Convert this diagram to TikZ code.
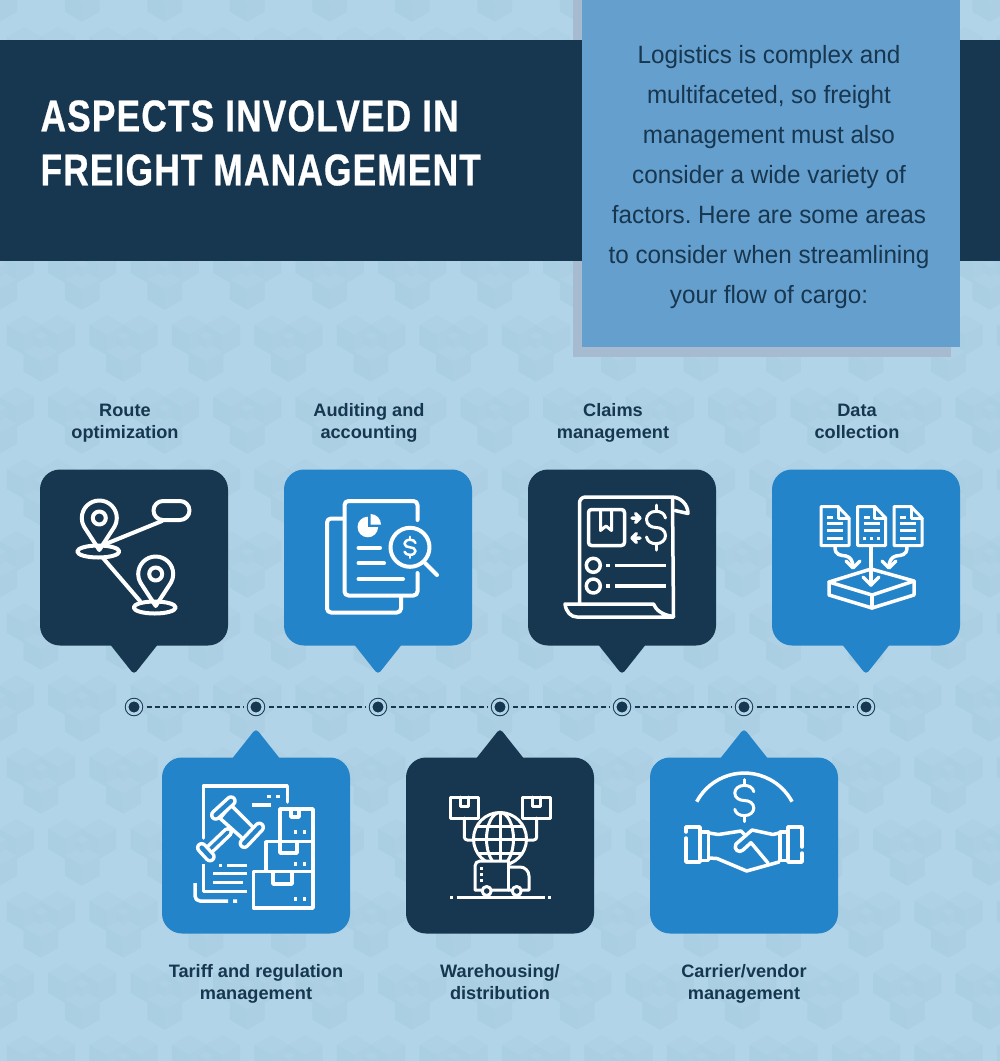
\documentclass[tikz,border=0pt]{standalone}
\usepackage{fontspec}
\setmainfont{Liberation Sans}
\newfontfamily\headfont[FakeStretch=0.795,LetterSpace=2.5,FakeBold=0.6]{Liberation Sans}
\newfontfamily\bodyfont[FakeStretch=0.97]{Liberation Sans}
\newfontfamily\labelfont[FakeStretch=1.01]{Liberation Sans}
\usetikzlibrary{positioning}
\definecolor{navy}{HTML}{17364F}
\definecolor{cardblue}{HTML}{2484C9}
\definecolor{panelblue}{HTML}{659FCD}
\definecolor{panelshade}{HTML}{A6BBD0}
\definecolor{paper}{HTML}{B2D4E8}
\definecolor{facetop}{HTML}{AED1E5}
\definecolor{faceleft}{HTML}{AACEE2}
\definecolor{faceright}{HTML}{ACCFE4}
\tikzstyle{darkcard} = [rectangle, rounded corners=20pt,
minimum width=188pt,
minimum height=176pt,
inner sep=0pt, outer sep=0pt,
fill=navy]
\tikzstyle{bluecard} = [rectangle, rounded corners=20pt,
minimum width=188pt,
minimum height=176pt,
inner sep=0pt, outer sep=0pt,
fill=cardblue]
\tikzstyle{cardlabel} = [align=center, text=navy,
font=\labelfont\bfseries\fontsize{18}{22}\selectfont]
\tikzstyle{stopmark} = [circle, draw=navy, fill=navy, line width=1pt,
double=paper, double distance=2.7pt,
minimum size=13.7pt, inner sep=0pt, outer sep=0pt]
\tikzstyle{stoplink} = [navy, line width=1.1pt, dash pattern=on 5pt off 3pt,
shorten <=6pt, shorten >=5pt]
\tikzstyle{iconline} = [draw=white, line width=3.5pt, line join=round, line cap=round]
\tikzstyle{thinline} = [draw=white, line width=3pt, line join=round, line cap=round]
% one shaded cube of the backdrop
\newcommand{\cubetile}[3]{
\begin{scope}[shift={(#1,#2)},scale=#3]
\fill[facetop] (0,-1) -- (.866,-.5) -- (0,0) -- (-.866,-.5) -- cycle;
\fill[faceleft] (-.866,-.5) -- (0,0) -- (0,1) -- (-.866,.5) -- cycle;
\fill[faceright] (.866,-.5) -- (0,0) -- (0,1) -- (.866,.5) -- cycle;
\end{scope}}
% map pin with its base ring
\newcommand{\pinmark}[2]{
\begin{scope}[shift={(#1,#2)}]
\draw[iconline, line width=4pt] (0,32) -- (-15,9) .. controls (-17,5) and (-17.5,3) .. (-17.5,0) arc (180:360:17.5) .. controls (17.5,3) and (17,5) .. (15,9) -- cycle;
\draw[iconline, line width=4pt] (0,0) circle (6.5);
\draw[iconline, line width=4pt] (-1,33.5) ellipse (21 and 6);
\end{scope}}
% dollar sign: half width, half height, line width
\newcommand{\dollarmark}[5]{
\begin{scope}[shift={(#1,#2)},xscale=#3,yscale=#4]
\draw[draw=white, line width=#5pt, line cap=round, line join=round] (1,-.42) .. controls (.9,-.62) and (.5,-.72) .. (0,-.72) .. controls (-.6,-.72) and (-1,-.55) .. (-1,-.36) .. controls (-1,-.12) and (-.5,0) .. (0,0) .. controls (.5,0) and (1,.12) .. (1,.36) .. controls (1,.55) and (.6,.72) .. (0,.72) .. controls (-.5,.72) and (-.9,.62) .. (-1,.42);
\draw[draw=white, line width=#5pt, line cap=round] (0,-1) -- (0,-.72) (0,.72) -- (0,1);
\end{scope}}
% small page with text rows
\newcommand{\pagemark}[1]{
\begin{scope}[shift={(#1,0)}]
\draw[thinline] (821,506.5) -- (838,506.5) -- (849,518) -- (849,545.5) -- (821,545.5) -- cycle;
\draw[thinline] (838,506.5) -- (838,518) -- (849,518);
\draw[thinline, line cap=butt] (827,517) -- (833,517);
\draw[thinline, line cap=butt] (827,523.5) -- (843,523.5) (827,530.7) -- (843,530.7);
\end{scope}}
\begin{document}
\begin{tikzpicture}[x=1pt, y=-1pt, node distance=244pt]
\useasboundingbox (0,0) rectangle (1000,1061);

% Backdrop
\fill[paper] (0,0) rectangle (1000,1061);
\begin{scope}
\clip (0,0) rectangle (1000,1061);
\foreach \row in {0,...,15}{
\foreach \col in {-1,...,12}{
\pgfmathsetmacro{\tilex}{41+82.5*\col+41.25*(1-mod(\row,2))}
\pgfmathsetmacro{\tiley}{-20+72*\row}
\cubetile{\tilex-16.7}{\tiley-5}{20}
\cubetile{\tilex+16.7}{\tiley-5}{20}
\cubetile{\tilex}{\tiley+21.7}{20}
\cubetile{\tilex}{\tiley}{8.3}
}}
\end{scope}

% Header
\fill[panelshade] (573,0) rectangle (951,357);
\node (banner) [rectangle, fill=navy, minimum width=1000pt, minimum height=221pt, inner sep=0pt, outer sep=0pt] at (500,150.5) {};
\node (panel) [rectangle, fill=panelblue, minimum width=378pt, minimum height=347pt, inner sep=0pt, outer sep=0pt] at (771,173.5) {};
\node (title) [anchor=west, align=left, text=white, font=\headfont\bfseries\fontsize{44.5}{54}\selectfont] at (37,143) {ASPECTS INVOLVED IN\\FREIGHT MANAGEMENT};
\node (intro) [align=center, text=navy, font=\bodyfont\fontsize{25}{40}\selectfont] at (769,177) {Logistics is complex and\\multifaceted, so freight\\management must also\\consider a wide variety of\\factors.\ Here are some areas\\to consider when streamlining\\your flow of cargo:};

% Cards
\node (route) [darkcard] at (134,557.5) {};
\node (audit) [bluecard, right of=route] {};
\node (claims) [darkcard, right of=audit] {};
\node (data) [bluecard, right of=claims] {};
\node (tariff) [bluecard] at (256,845.5) {};
\node (storage) [darkcard, right of=tariff] {};
\node (carrier) [bluecard, right of=storage] {};

% Pointers
\foreach \card/\tone in {route/navy, audit/cardblue, claims/navy, data/cardblue}{
\fill[\tone, rounded corners=4pt] ([xshift=-25.4pt,yshift=3pt]\card.south) -- ([xshift=25.4pt,yshift=3pt]\card.south) -- ([yshift=-29pt]\card.south) -- cycle;
}
\foreach \card/\tone in {tariff/cardblue, storage/navy, carrier/cardblue}{
\fill[\tone, rounded corners=4pt] ([xshift=-25.4pt,yshift=-3pt]\card.north) -- ([xshift=25.4pt,yshift=-3pt]\card.north) -- ([yshift=29pt]\card.north) -- cycle;
}

% Labels
\node (routetext) [cardlabel, above of=route, node distance=134.2pt, xshift=-9pt] {\strut Route\\optimization\strut};
\node (audittext) [cardlabel, above of=audit, node distance=134.2pt, xshift=-9pt] {\strut Auditing and\\accounting\strut};
\node (claimstext) [cardlabel, above of=claims, node distance=134.2pt, xshift=-9pt] {\strut Claims\\management\strut};
\node (datatext) [cardlabel, above of=data, node distance=134.2pt, xshift=-9pt] {\strut Data\\collection\strut};
\node (tarifftext) [cardlabel, below of=tariff, node distance=139pt] {\strut Tariff and regulation\\management\strut};
\node (storagetext) [cardlabel, below of=storage, node distance=139pt] {\strut Warehousing/\\distribution\strut};
\node (carriertext) [cardlabel, below of=carrier, node distance=139pt] {\strut Carrier/vendor\\management\strut};

% Timeline
\node (stopa) [stopmark] at (134,707) {};
\node (stopb) [stopmark, right=108.3pt of stopa] {};
\node (stopc) [stopmark, right=108.3pt of stopb] {};
\node (stopd) [stopmark, right=108.3pt of stopc] {};
\node (stope) [stopmark, right=108.3pt of stopd] {};
\node (stopf) [stopmark, right=108.3pt of stope] {};
\node (stopg) [stopmark, right=108.3pt of stopf] {};
\draw [stoplink] (stopa) -- (stopb);
\draw [stoplink] (stopb) -- (stopc);
\draw [stoplink] (stopc) -- (stopd);
\draw [stoplink] (stopd) -- (stope);
\draw [stoplink] (stope) -- (stopf);
\draw [stoplink] (stopf) -- (stopg);

% Route icon
\pinmark{99.3}{518}
\pinmark{155.7}{574}
\draw[iconline, line width=4pt] (163,501) -- (180,501) arc (270:450:9.5) -- (163,520) arc (90:270:9.5) -- cycle;
\draw[iconline, line width=4pt] (162,521) -- (108,543);
\draw[iconline, line width=4pt] (103,558) -- (140,601);

% Audit icon
\draw[iconline, line width=4pt] (343,518.5) -- (331,518.5) arc (270:180:4) -- (327,608.5) arc (180:90:4) -- (397,612.5) arc (90:0:4) -- (401,597);
\draw[iconline, line width=4pt] (417.5,520) -- (417.5,505) arc (0:-90:4) -- (348.5,501) arc (270:180:4) -- (344.5,591.5) arc (180:90:4) -- (413.5,595.5) arc (90:0:4) -- (417.5,573);
\fill[white] (367.8,527) -- (378.1,527) arc (0:270:10.3) -- cycle;
\fill[white] (370.5,524.5) -- (370.5,514) arc (270:360:10.5) -- cycle;
\draw[iconline, line width=4pt] (358.5,547.7) -- (380,547.7);
\draw[iconline, line width=4pt] (358.5,563.3) -- (384,563.3);
\draw[iconline, line width=4pt] (358.5,579) -- (403,579);
\draw[iconline, line width=4pt, fill=cardblue] (410,547.3) circle (19.5);
\dollarmark{410}{547.3}{5.5}{10.5}{2.5}
\draw[iconline, line width=4pt] (425,563) -- (437,575);

% Claims icon
\draw[iconline] (579.5,604) -- (579.5,503) arc (180:270:6) -- (671.5,497) arc (270:360:16.5) -- (675,510.5);
\draw[iconline] (672.5,497.5) -- (673.5,616.5) .. controls (662,615) and (656,610) .. (653.5,604) -- (565,604) .. controls (566,612) and (571,617) .. (577,617) -- (673.5,617);
\draw[iconline, rounded corners=3pt] (588.5,509.5) rectangle (624.5,545.5);
\draw[iconline, line width=3pt] (600.5,509.5) -- (600.5,530.5) -- (606,526) -- (611.5,530.5) -- (611.5,509.5);
\draw[iconline] (632,518) -- (640,518) (635.5,513.5) -- (640,518) -- (635.5,522.5);
\draw[iconline] (640,538) -- (632,538) (636.5,533.5) -- (632,538) -- (636.5,542.5);
\dollarmark{656}{527.5}{9.5}{22.5}{3}
\draw[iconline] (593.3,565.3) circle (7);
\draw[iconline] (593.3,586) circle (7);
\draw[iconline, line cap=butt] (606,565.3) -- (610,565.3) (615,565.3) -- (666,565.3);
\draw[iconline, line cap=butt] (606,586) -- (610,586) (615,586) -- (666,586);

% Data icon
\foreach \shiftx in {0,36.7,73}{
\pagemark{\shiftx}
}
\draw[thinline, line cap=butt] (827,538.3) -- (843,538.3) (900,538.3) -- (916,538.3);
\foreach \dotx in {864,871,878}{
\draw[thinline, line cap=butt] (\dotx-1.5,538.3) -- (\dotx+1.5,538.3);
}
\draw[iconline] (835,547) .. controls (835,556) and (841,555) .. (846,556) .. controls (851,557) and (853,562) .. (853,567);
\draw[iconline] (846,561) -- (853,568) -- (860,561);
\draw[iconline] (907,547) .. controls (907,556) and (901,555) .. (896,556) .. controls (891,557) and (889,562) .. (889,567);
\draw[iconline] (882,561) -- (889,568) -- (896,561);
\draw[iconline] (871,547) -- (871,585);
\draw[iconline] (863,577) -- (871,585) -- (879,577);
\draw[iconline] (829,582) -- (871,569) -- (914,581) -- (914,595) -- (872,608) -- (829,595) -- cycle;
\draw[iconline] (829,582) -- (872,595) -- (914,581);
\draw[iconline] (872,595) -- (872,608);

% Tariff icon
\draw[iconline] (203.3,838) -- (203.3,786) -- (287.3,786) -- (287.3,802);
\draw[iconline, line cap=butt] (252,805) -- (271,805) (267,796.7) -- (270.5,796.7) (276,796.7) -- (279.5,796.7);
\draw[iconline, fill=cardblue] (280,809) rectangle (313,841.7);
\draw[iconline, fill=cardblue] (266,841.7) rectangle (313,871.7);
\draw[iconline, fill=cardblue] (253.5,871.7) rectangle (313,908);
\draw[iconline] (291,809) -- (291,817) -- (299,817) -- (299,809);
\draw[iconline] (280,842) -- (280,853) -- (297,853) -- (297,842);
\draw[iconline] (273,872) -- (273,884) -- (292,884) -- (292,872);
\foreach \boxy in {832,864,899}{
\draw[iconline, line cap=butt] (294,\boxy) -- (297,\boxy) (303,\boxy) -- (306,\boxy);
}
\draw[draw=white, line width=10.5pt, line cap=round] (228,832) -- (206,853);
\draw[cardblue, line width=3.5pt, line cap=round] (228,832) -- (206,853);
\draw[iconline, fill=cardblue] (231,805) -- (255.7,830) -- (244.3,840) -- (220,818.3) -- cycle;
\foreach \ax/\ay/\bx/\by in {215.7/815/231/801, 244.3/843.3/259.3/827.3, 201.7/847.7/210/856.7}{
\draw[draw=white, line width=11.5pt, line cap=round] (\ax,\ay) -- (\bx,\by);
\draw[cardblue, line width=4.5pt, line cap=round] (\ax,\ay) -- (\bx,\by);
}
\draw[iconline, line cap=butt] (219,865.7) -- (222,865.7) (227,865.7) -- (247,865.7) (213,873.7) -- (247,873.7) (213,882.3) -- (243,882.3);
\draw[iconline, line cap=butt] (203.3,864) -- (203.3,891.7) -- (247,891.7);
\draw[iconline, line cap=butt] (195,883) -- (195,896) arc (180:90:5) -- (228,901) (233,901) -- (237,901);

% Warehouse icon
\draw[thinline] (450.5,797) rectangle (478.3,818);
\draw[thinline] (522.5,797) rectangle (550,818);
\draw[thinline] (460,797) -- (460,806) -- (468,806) -- (468,797);
\draw[thinline] (532,797) -- (532,806) -- (540,806) -- (540,797);
\draw[thinline, rounded corners=3pt] (464.3,818) -- (464.3,840) -- (474,840);
\draw[thinline, rounded corners=3pt] (536.7,818) -- (536.7,840) -- (527,840);
\draw[thinline] (500,839) circle (26.5);
\draw[thinline] (500,839) ellipse (13.5 and 26.5);
\draw[thinline] (500,812.5) -- (500,865.5);
\draw[thinline] (478,826) -- (522,826) (473.5,839) -- (526.5,839) (478,853) -- (522,853);
\draw[thinline, fill=navy] (508.5,867) -- (520,867) arc (270:360:9) -- (529,890) -- (475,890) -- (475,866) arc (180:270:5) -- (508.5,861) -- cycle;
\draw[thinline] (508.5,861) -- (508.5,890);
\draw[thinline, line cap=butt] (481.7,867) -- (481.7,869.5) (481.7,873) -- (481.7,875.5) (481.7,879) -- (481.7,881.5);
\draw[thinline, fill=navy] (486.7,891) circle (4.5);
\draw[thinline, fill=navy] (516.7,891) circle (4.5);
\draw[thinline, line cap=butt] (450,897) -- (453,897) (456.5,897) -- (545,897) (548,897) -- (551,897);

% Carrier icon
\draw[iconline, line cap=butt] (696.7,801.7) arc (208:332:54);
\dollarmark{744.3}{800.5}{9.5}{21}{3}
\draw[iconline] (686,838) -- (686,862) -- (700,862) -- (700,827) -- (686,827) -- (686,832);
\draw[iconline] (802,847) -- (802,827) -- (788,827) -- (788,862) -- (802,862) -- (802,853);
\draw[iconline] (702,832) -- (708.5,832) -- (708.5,860.5) -- (702,860.5);
\draw[iconline] (786,832) -- (780,832) -- (780,860.5) -- (786,860.5);
\draw[iconline] (709,833) -- (718.5,834.5) -- (741,831) -- (746,836);
\draw[iconline] (779,833) -- (773,834.5) -- (752,830) -- (736,844) .. controls (733,849) and (739,854) .. (743,850) -- (751,842.7) -- (768,863);
\draw[iconline] (709,858) -- (717,858.5) -- (746.7,871) -- (779,862);
\end{tikzpicture}
\end{document}
